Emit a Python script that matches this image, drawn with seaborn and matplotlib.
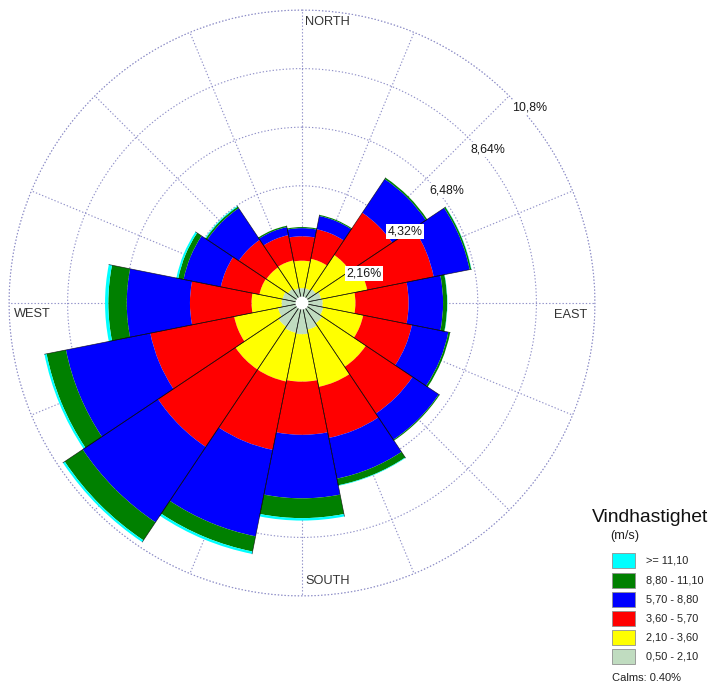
import numpy as np
import pandas as pd
import seaborn as sns
import matplotlib
matplotlib.use("Agg")
import matplotlib.pyplot as plt
from matplotlib.patches import Rectangle

# Wind directions (16 sectors, clockwise from north)
directions = ["N", "NNE", "NE", "ENE", "E", "ESE", "SE", "SSE",
              "S", "SSW", "SW", "WSW", "W", "WNW", "NW", "NNW"]

# Frequency (%) per speed class and direction
freq_050_210 = [0.55, 0.55, 0.62, 0.72, 0.76, 0.80, 0.90, 1.00,
                1.15, 1.12, 1.05, 0.90, 0.75, 0.73, 0.63, 0.55]
freq_210_360 = [1.01, 1.11, 1.51, 1.73, 1.21, 1.50, 1.93, 2.15,
                1.75, 1.83, 1.90, 1.65, 1.11, 0.87, 0.95, 1.05]
freq_360_570 = [0.90, 1.11, 1.87, 2.50, 1.96, 1.83, 2.07, 1.92,
                1.96, 2.57, 3.43, 3.15, 2.27, 1.45, 1.22, 0.95]
freq_570_880 = [0.30, 0.50, 1.49, 1.35, 1.27, 1.37, 1.16, 1.53,
                2.34, 3.25, 3.34, 3.17, 2.33, 1.40, 1.40, 0.30]
freq_880_1110 = [0.04, 0.04, 0.06, 0.06, 0.15, 0.07, 0.04, 0.25,
                 0.73, 0.57, 0.80, 0.73, 0.68, 0.20, 0.07, 0.05]
freq_ge_1110 = [0.00, 0.00, 0.00, 0.01, 0.01, 0.00, 0.00, 0.02,
                0.09, 0.09, 0.08, 0.08, 0.12, 0.07, 0.03, 0.00]

speed_classes = ["0,50 - 2,10", "2,10 - 3,60", "3,60 - 5,70",
                 "5,70 - 8,80", "8,80 - 11,10", ">= 11,10"]
class_colors = ["#C0DCC0", "#FFFF00", "#FF0000", "#0000FF", "#008000", "#00FFFF"]

ring_values = [2.16, 4.32, 6.48, 8.64, 10.8]
ring_labels = ["2,16%", "4,32%", "6,48%", "8,64%", "10,8%"]
cardinal_labels = ["NORTH", "EAST", "SOUTH", "WEST"]
legend_title = "Vindhastighet"
legend_unit = "(m/s)"
calm_text = "Calms: 0.40%"

# Long-form table -> wide table (direction x speed class)
df = pd.DataFrame({
    "direction": np.repeat(directions, len(speed_classes)),
    "speed": speed_classes * len(directions),
    "freq": np.column_stack([freq_050_210, freq_210_360, freq_360_570,
                             freq_570_880, freq_880_1110, freq_ge_1110]).ravel(),
})
wide = df.pivot(index="direction", columns="speed", values="freq").loc[directions, speed_classes]

sns.set_style("white")
palette = sns.color_palette(class_colors)
plt.rcParams["font.family"] = ["Liberation Sans", "DejaVu Sans"]

W, H = 710, 687
fig = plt.figure(figsize=(W / 100, H / 100), dpi=100)
cx, cy, R = 302, 303, 293
ax = fig.add_axes([(cx - R) / W, (H - cy - R) / H, 2 * R / W, 2 * R / H], projection="polar")
ax.set_theta_zero_location("N")
ax.set_theta_direction(-1)

theta = np.deg2rad(np.arange(len(directions)) * 360 / len(directions))
width = 2 * np.pi / len(directions)

bottom = np.zeros(len(directions))
for cls, col in zip(speed_classes, palette):
    vals = wide[cls].to_numpy()
    ax.bar(theta, vals, width=width, bottom=bottom, color=col,
           edgecolor="none", linewidth=0, zorder=2, align="center")
    bottom = bottom + vals

# dark sector dividers along each petal
for t, tot in zip(theta, bottom):
    for e in (t - width / 2, t + width / 2):
        ax.plot([e, e], [0, tot], color="black", lw=0.5, alpha=0.75, zorder=3)

# calm circle in the middle
ax.bar(0, 0.24, width=2 * np.pi, bottom=0, color="white", edgecolor="none", zorder=4)

ax.set_ylim(0, ring_values[-1])
ax.set_yticks(ring_values)
ax.set_yticklabels([])
ax.set_xticks(theta)
ax.set_xticklabels([])
ax.set_axisbelow(True)
ax.grid(True, color="#8f8fc8", linestyle=(0, (1.2, 1.8)), lw=0.8)
ax.spines["polar"].set_visible(False)
ax.plot(np.linspace(0, 2 * np.pi, 400), np.full(400, ring_values[-1]),
        color="#8f8fc8", linestyle=(0, (1.2, 1.8)), lw=0.8, zorder=1, clip_on=False)

for v, lab in zip(ring_values, ring_labels):
    ax.annotate(lab, xy=(np.deg2rad(45), v), xytext=(2.2, -4.2), textcoords="offset points",
                ha="left", va="top", fontsize=8.9, color="#1a1a1a", zorder=6,
                bbox=dict(boxstyle="square,pad=0.12", fc="white", ec="none"))

def fx(x):
    return x / W

def fy(y):
    return 1 - y / H

card_kw = dict(fontsize=9.2, color="#333333", va="center")
fig.text(fx(305.5), fy(22), cardinal_labels[0], ha="left", **card_kw)
fig.text(fx(587), fy(315), cardinal_labels[1], ha="right", **card_kw)
fig.text(fx(305.5), fy(581), cardinal_labels[2], ha="left", **card_kw)
fig.text(fx(14), fy(314), cardinal_labels[3], ha="left", **card_kw)

# legend
fig.text(fx(591.5), fy(522.5), legend_title, fontsize=13.9, color="#111111", ha="left", va="baseline")
fig.text(fx(610.5), fy(539), legend_unit, fontsize=9.2, color="#222222", ha="left", va="baseline")
sw_top = [553.3, 572.7, 591.7, 611.0, 630.0, 649.3]
for top, cls, col in zip(sw_top, speed_classes[::-1], list(palette)[::-1]):
    fig.patches.append(Rectangle((fx(611.7), fy(top + 15)), 23.3 / W, 15 / H,
                                 transform=fig.transFigure, facecolor=col,
                                 edgecolor="#909090", lw=0.6))
    fig.text(fx(646.5), fy(top + 7.5), cls, fontsize=7.9, color="#222222", ha="left", va="center")
fig.text(fx(611.5), fy(677.7), calm_text, fontsize=8.0, color="#222222", ha="left", va="center")

fig.savefig("out.png", dpi=100, facecolor="white")
